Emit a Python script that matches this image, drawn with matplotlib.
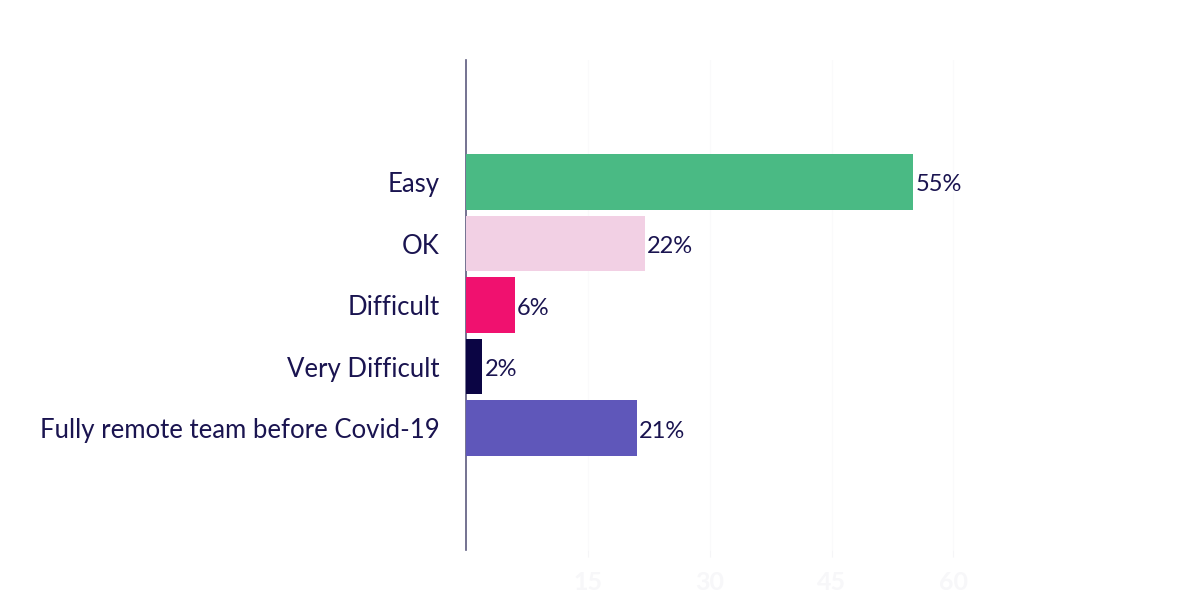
import matplotlib
matplotlib.use("Agg")
import matplotlib.pyplot as plt

categories = ["Easy", "OK", "Difficult", "Very Difficult", "Fully remote team before Covid-19"]
values = [55, 22, 6, 2, 21]
colors = ["#4ABA84", "#F2D0E4", "#F0116F", "#0B0544", "#5F57BA"]
xticks = [15, 30, 45, 60]

plt.rcParams['font.family'] = ['Lato', 'DejaVu Sans']
text_color = "#1A1450"

fig = plt.figure(figsize=(11.97, 5.97), dpi=100)
ax = fig.add_axes([0.3893, 0.0787, 0.448, 0.8208])

y = list(range(len(categories)))
bars = ax.barh(y, values, height=0.9, color=colors, zorder=3)
for yi, v in zip(y, values):
    ax.text(v + 0.3, yi + 0.05, f"{v}%", va="center", ha="left", fontsize=17, color=text_color, zorder=4)

ax.set_xlim(0, 66)
ax.set_ylim(5.98, -1.98)
ax.set_yticks(y)
ax.set_yticklabels([])
ax.tick_params(axis='y', length=0)
for yi, cat in zip(y, categories):
    ax.annotate(cat, xy=(0, yi), xytext=(-19, -2), textcoords="offset points",
                ha="right", va="center", fontsize=18.5, color=text_color,
                annotation_clip=False)
ax.set_xticks(xticks)
ax.set_xticklabels([str(t) for t in xticks], fontsize=18, color="#F7F7F9", fontweight="bold")
ax.tick_params(axis='x', length=5, color="#F5F5F7", pad=10)
ax.grid(axis='x', color="#FAFAFB", linewidth=1, zorder=0)
for s in ["top", "right", "bottom"]:
    ax.spines[s].set_visible(False)
ax.spines["left"].set_color("#5C5A7E")
ax.spines["left"].set_linewidth(1.2)

fig.savefig("out.png", dpi=100)
